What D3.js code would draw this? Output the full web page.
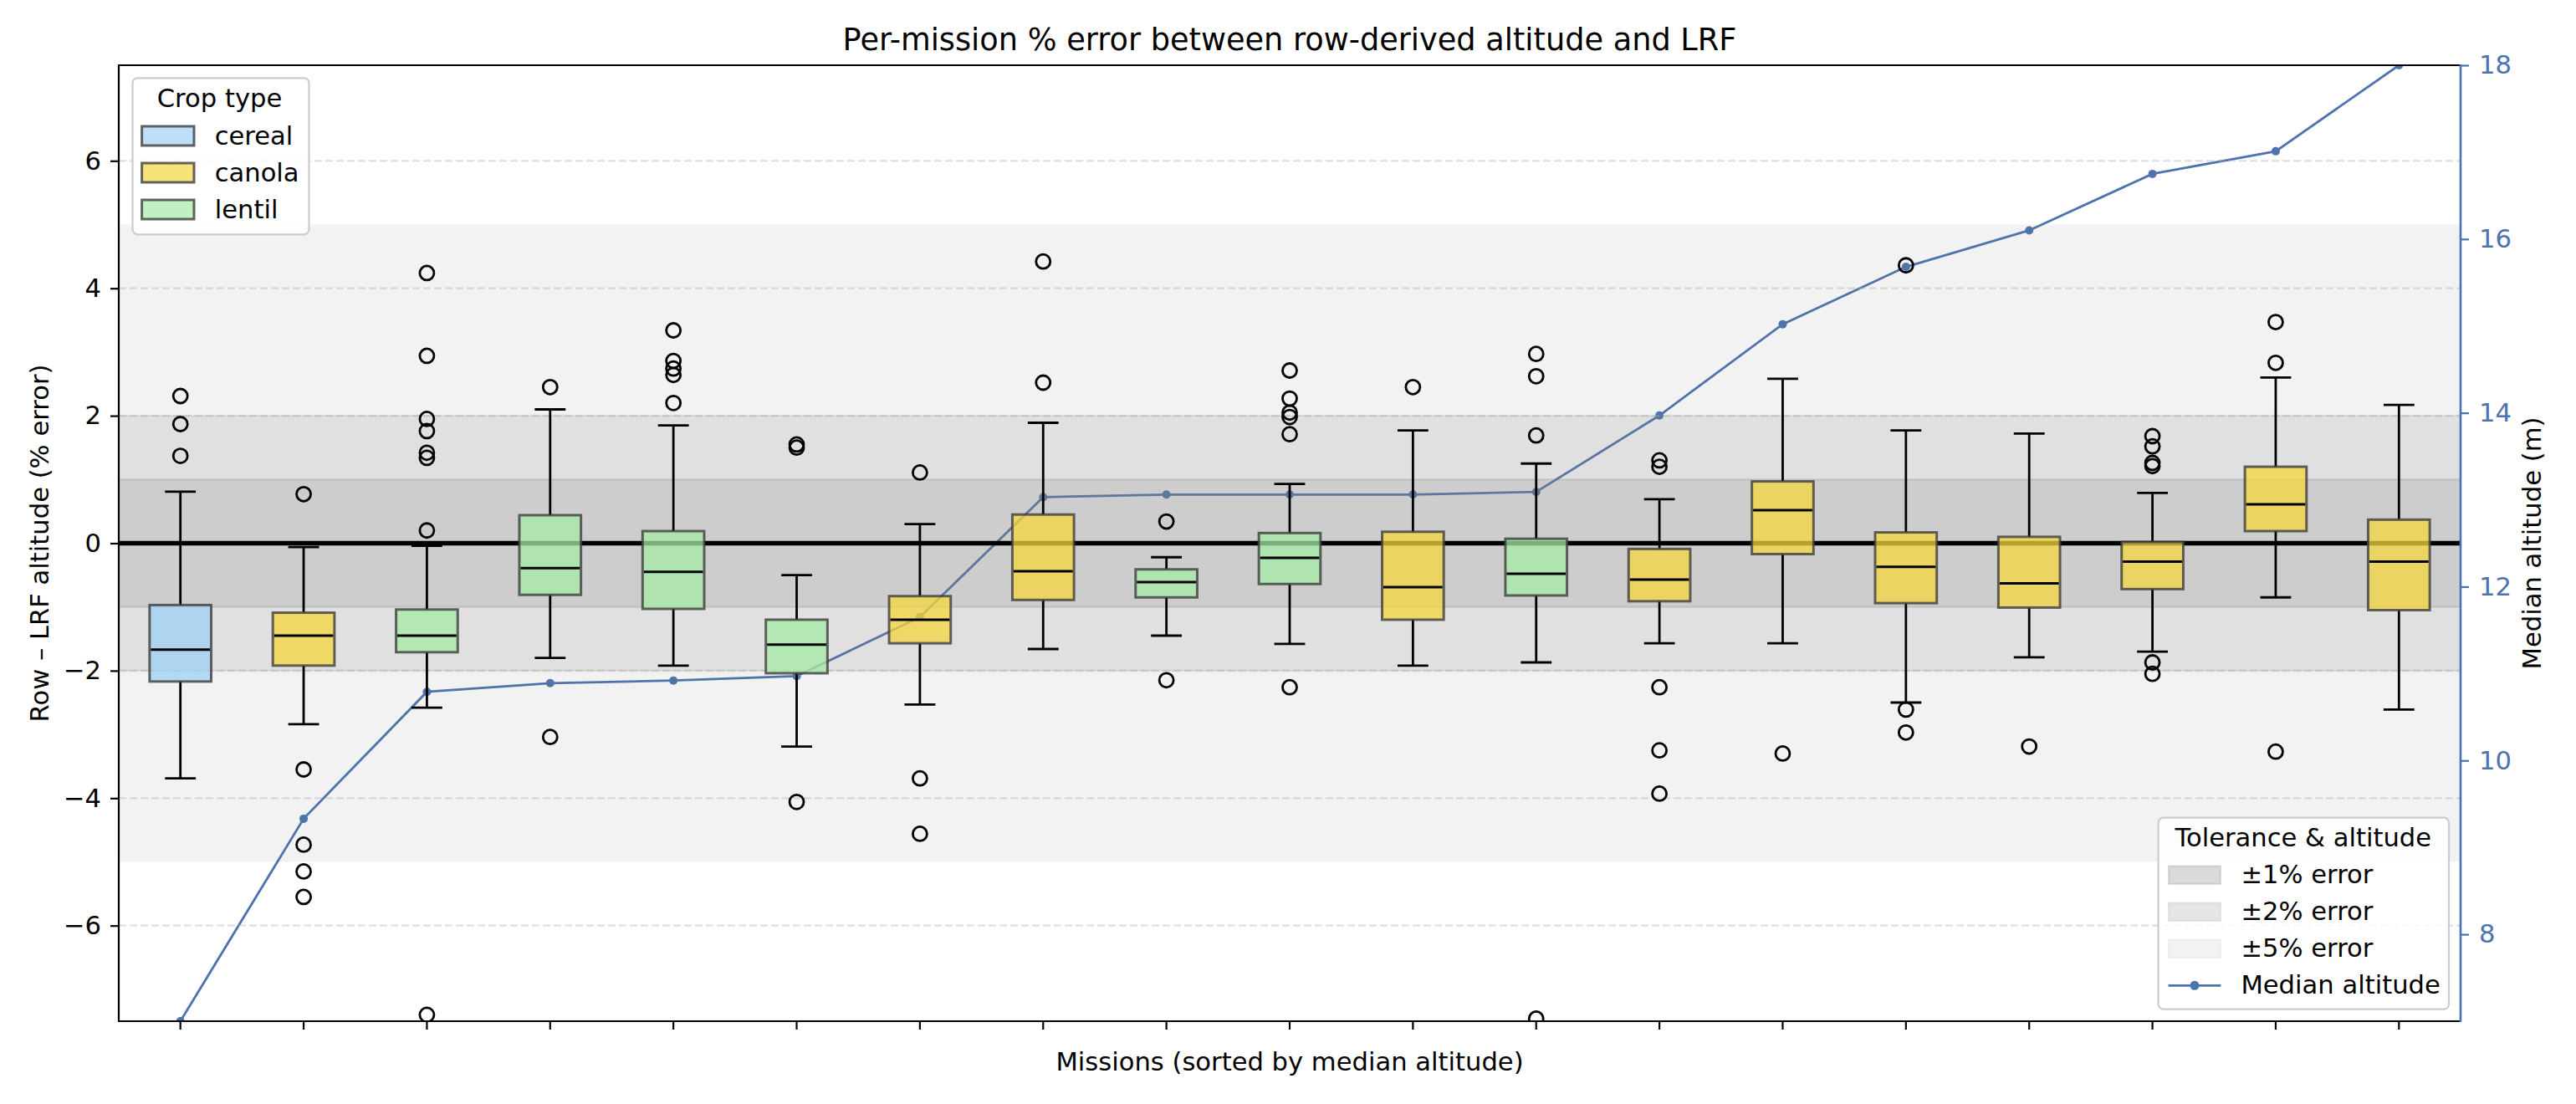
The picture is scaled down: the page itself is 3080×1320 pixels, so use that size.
<!DOCTYPE html>
<html>
<head>
<meta charset="utf-8">
<script src="https://cdn.jsdelivr.net/npm/d3@7"></script>
<style>
  html, body { margin: 0; padding: 0; background: #ffffff; }
  svg { display: block; font-family: "DejaVu Sans", sans-serif; }
</style>
</head>
<body>
<svg id="chart" width="3080" height="1320"></svg>
<script>
// ---------------- DATA ----------------
const cropTypes = ["cereal","canola","lentil","lentil","lentil","lentil","canola","canola","lentil","lentil",
                   "canola","lentil","canola","canola","canola","canola","canola","canola","canola"];
const whiskerLow  = [-3.69,-2.84,-2.58,-1.80,-1.92,-3.19,-2.53,-1.66,-1.45,-1.58,-1.92,-1.87,-1.57,-1.57,-2.50,-1.79,-1.70,-0.85,-2.61];
const q1          = [-2.17,-1.92,-1.71,-0.81,-1.03,-2.04,-1.57,-0.89,-0.85,-0.64,-1.20,-0.82,-0.91,-0.17,-0.94,-1.01,-0.72, 0.19,-1.05];
const medians     = [-1.67,-1.45,-1.45,-0.39,-0.45,-1.59,-1.20,-0.44,-0.61,-0.23,-0.69,-0.48,-0.57, 0.52,-0.37,-0.63,-0.29, 0.61,-0.29];
const q3          = [-0.97,-1.09,-1.04, 0.44, 0.19,-1.20,-0.83, 0.45,-0.41, 0.16, 0.18, 0.07,-0.09, 0.97, 0.17, 0.10, 0.02, 1.20, 0.37];
const whiskerHigh = [ 0.81,-0.06,-0.04, 2.10, 1.85,-0.50, 0.30, 1.89,-0.22, 0.93, 1.77, 1.25, 0.69, 2.58, 1.77, 1.72, 0.79, 2.60, 2.17];
const outliers = [
  [2.31,1.87,1.37],
  [0.77,-3.55,-4.73,-5.15,-5.55],
  [4.24,2.94,1.95,1.76,1.42,1.34,0.20,-7.40],
  [2.45,-3.04],
  [3.34,2.86,2.74,2.64,2.20],
  [1.55,1.50,-4.06],
  [1.11,-3.69,-4.56],
  [4.42,2.52],
  [0.34,-2.15],
  [2.71,2.27,2.05,1.98,1.71,-2.26],
  [2.45],
  [2.97,2.62,1.69,-7.46],
  [1.30,1.20,-2.26,-3.25,-3.93],
  [-3.30],
  [4.36,-2.61,-2.97],
  [-3.19],
  [1.68,1.52,1.26,1.21,-1.87,-2.05],
  [3.47,2.83,-3.27],
  []
];
const medianAltitude = [7.0,9.33,10.79,10.89,10.92,10.97,11.65,13.03,13.06,13.06,13.06,13.09,13.97,15.02,15.68,16.10,16.75,17.01,18.0];

const leftTicks  = [-6,-4,-2,0,2,4,6];
const rightTicks = [8,10,12,14,16,18];
const cropNames  = ["cereal","canola","lentil"];
const toleranceLevels = [1,2,5];
const toleranceLabels = ["±1% error","±2% error","±5% error"];

// ---------------- STYLE ----------------
const cropColor = { cereal: "#9dd0f4", canola: "#f5d63d", lentil: "#a4eba7" };
const altColor = "#4c72b0";
const bandOpacity = { 1: 0.2, 2: 0.155, 5: 0.1 };
const legendBandFill = { 1: "#dadada", 2: "#e6e6e6", 5: "#f2f2f2" };
const legendBandStroke = { 1: "#cfcfcf", 2: "#dedede", 5: "#ececec" };
const fontSize = 30.6;
const titleSize = 36.7;

const W = 3080, H = 1320;
const plot = { left: 142, right: 2942, top: 78, bottom: 1221 };

const svg = d3.select("#chart");
svg.append("rect").attr("width", W).attr("height", H).attr("fill", "#ffffff");

const idx = d3.range(cropTypes.length);
const x = d3.scaleBand().domain(idx).range([plot.left, plot.right]).padding(0);
const cx = i => x(i) + x.bandwidth() / 2;
const y = d3.scaleLinear().domain([-7.5, 7.5]).range([plot.bottom, plot.top]);
const yAlt = d3.scaleLinear().domain([7, 18]).range([plot.bottom, plot.top]);

svg.append("defs").append("clipPath").attr("id", "plotclip")
  .append("rect").attr("x", plot.left).attr("y", plot.top)
  .attr("width", plot.right - plot.left).attr("height", plot.bottom - plot.top);

const g = svg.append("g").attr("clip-path", "url(#plotclip)");

// altitude line (drawn below the main axes content)
g.append("path")
  .datum(medianAltitude)
  .attr("d", d3.line().x((d, i) => cx(i)).y(d => yAlt(d)))
  .attr("fill", "none").attr("stroke", altColor).attr("stroke-width", 2.8);
g.selectAll("circle.alt").data(medianAltitude).join("circle")
  .attr("class", "alt").attr("cx", (d, i) => cx(i)).attr("cy", d => yAlt(d))
  .attr("r", 5).attr("fill", altColor);

// tolerance bands
[5, 2, 1].forEach(t => {
  g.append("rect")
    .attr("x", plot.left - 10).attr("width", plot.right - plot.left + 20)
    .attr("y", y(t)).attr("height", y(-t) - y(t))
    .attr("fill", "#808080").attr("fill-opacity", bandOpacity[t]);
  if (t !== 5) {
    [t, -t].forEach(v => {
      g.append("line").attr("x1", plot.left).attr("x2", plot.right)
        .attr("y1", y(v)).attr("y2", y(v))
        .attr("stroke", "#808080").attr("stroke-opacity", bandOpacity[t]).attr("stroke-width", 2.5);
    });
  }
});

// grid
g.selectAll("line.grid").data(leftTicks).join("line")
  .attr("class", "grid")
  .attr("x1", plot.left).attr("x2", plot.right)
  .attr("y1", d => y(d)).attr("y2", d => y(d))
  .attr("stroke", "#b0b0b0").attr("stroke-opacity", 0.4)
  .attr("stroke-width", 2.2).attr("stroke-dasharray", "9,4");

// zero line
g.append("line").attr("x1", plot.left).attr("x2", plot.right)
  .attr("y1", y(0)).attr("y2", y(0))
  .attr("stroke", "#000").attr("stroke-width", 5.5);

// boxes
const bw = x.bandwidth() * 0.5;
const capW = bw * 0.5;
const boxes = g.selectAll("g.box").data(idx).join("g").attr("class", "box");
boxes.append("line")
  .attr("x1", cx).attr("x2", cx)
  .attr("y1", i => y(q3[i])).attr("y2", i => y(whiskerHigh[i]))
  .attr("stroke", "#000").attr("stroke-width", 2.8);
boxes.append("line")
  .attr("x1", cx).attr("x2", cx)
  .attr("y1", i => y(q1[i])).attr("y2", i => y(whiskerLow[i]))
  .attr("stroke", "#000").attr("stroke-width", 2.8);
boxes.append("line")
  .attr("x1", i => cx(i) - capW / 2).attr("x2", i => cx(i) + capW / 2)
  .attr("y1", i => y(whiskerHigh[i])).attr("y2", i => y(whiskerHigh[i]))
  .attr("stroke", "#000").attr("stroke-width", 2.8);
boxes.append("line")
  .attr("x1", i => cx(i) - capW / 2).attr("x2", i => cx(i) + capW / 2)
  .attr("y1", i => y(whiskerLow[i])).attr("y2", i => y(whiskerLow[i]))
  .attr("stroke", "#000").attr("stroke-width", 2.8);
boxes.append("rect")
  .attr("x", i => cx(i) - bw / 2).attr("width", bw)
  .attr("y", i => y(q3[i])).attr("height", i => y(q1[i]) - y(q3[i]))
  .attr("fill", i => cropColor[cropTypes[i]]).attr("fill-opacity", 0.75)
  .attr("stroke", "#3d3d3d").attr("stroke-opacity", 0.8).attr("stroke-width", 3);
boxes.append("line")
  .attr("x1", i => cx(i) - bw / 2 + 1.5).attr("x2", i => cx(i) + bw / 2 - 1.5)
  .attr("y1", i => y(medians[i])).attr("y2", i => y(medians[i]))
  .attr("stroke", "#000").attr("stroke-width", 3);
boxes.each(function(i) {
  d3.select(this).selectAll("circle.flier").data(outliers[i]).join("circle")
    .attr("class", "flier").attr("cx", cx(i)).attr("cy", d => y(d))
    .attr("r", 8.5).attr("fill", "none").attr("stroke", "#000").attr("stroke-width", 2.8);
});

// ---------------- AXES ----------------
const leftAxis = svg.append("g").attr("transform", `translate(${plot.left},0)`)
  .call(d3.axisLeft(y).tickValues(leftTicks).tickSize(10).tickPadding(11).tickFormat(d3.format("d")));
leftAxis.select(".domain").remove();
leftAxis.selectAll("line").attr("stroke", "#000").attr("stroke-width", 2.2);
leftAxis.selectAll("text").attr("font-size", fontSize).attr("fill", "#000")
  .attr("font-family", "DejaVu Sans");

const rightAxis = svg.append("g").attr("transform", `translate(${plot.right},0)`)
  .call(d3.axisRight(yAlt).tickValues(rightTicks).tickSize(10).tickPadding(12).tickFormat(d3.format("d")));
rightAxis.select(".domain").remove();
rightAxis.selectAll("line").attr("stroke", altColor).attr("stroke-width", 2.2);
rightAxis.selectAll("text").attr("font-size", fontSize).attr("fill", altColor)
  .attr("font-family", "DejaVu Sans");

const bottomAxis = svg.append("g").attr("transform", `translate(0,${plot.bottom})`)
  .call(d3.axisBottom(x).tickSize(10).tickFormat(""));
bottomAxis.select(".domain").remove();
bottomAxis.selectAll("line").attr("stroke", "#000").attr("stroke-width", 2.2);

// spines
const spines = svg.append("g").attr("fill", "none");
spines.append("line").attr("x1", plot.left).attr("x2", plot.left).attr("y1", plot.top - 1.1).attr("y2", plot.bottom + 1.1)
  .attr("stroke", "#000").attr("stroke-width", 2.2);
spines.append("line").attr("x1", plot.left).attr("x2", plot.right).attr("y1", plot.top).attr("y2", plot.top)
  .attr("stroke", "#000").attr("stroke-width", 2.2);
spines.append("line").attr("x1", plot.left).attr("x2", plot.right).attr("y1", plot.bottom).attr("y2", plot.bottom)
  .attr("stroke", "#000").attr("stroke-width", 2.2);
spines.append("line").attr("x1", plot.right).attr("x2", plot.right).attr("y1", plot.top - 1.1).attr("y2", plot.bottom + 1.1)
  .attr("stroke", altColor).attr("stroke-width", 2.6);

// titles & labels
svg.append("text").attr("x", (plot.left + plot.right) / 2).attr("y", 60)
  .attr("text-anchor", "middle").attr("font-size", titleSize).attr("fill", "#000")
  .text("Per-mission % error between row-derived altitude and LRF");
svg.append("text").attr("x", (plot.left + plot.right) / 2).attr("y", 1280)
  .attr("text-anchor", "middle").attr("font-size", fontSize).attr("fill", "#000")
  .text("Missions (sorted by median altitude)");
svg.append("text").attr("transform", `translate(58,${(plot.top + plot.bottom) / 2}) rotate(-90)`)
  .attr("text-anchor", "middle").attr("font-size", fontSize).attr("fill", "#000")
  .text("Row – LRF altitude (% error)");
svg.append("text").attr("transform", `translate(3038,${(plot.top + plot.bottom) / 2}) rotate(-90)`)
  .attr("text-anchor", "middle").attr("font-size", fontSize).attr("fill", "#000")
  .text("Median altitude (m)");

// ---------------- LEGENDS ----------------
// Crop type legend
const lg1 = svg.append("g");
lg1.append("rect").attr("x", 158.5).attr("y", 93.3).attr("width", 211).attr("height", 187)
  .attr("rx", 6).attr("fill", "#ffffff").attr("fill-opacity", 0.8)
  .attr("stroke", "#cccccc").attr("stroke-width", 2.2);
lg1.append("text").attr("x", 262.5).attr("y", 127.5).attr("text-anchor", "middle")
  .attr("font-size", fontSize).attr("fill", "#000").text("Crop type");
cropNames.forEach((c, k) => {
  lg1.append("rect").attr("x", 169.6).attr("y", 151 + 44 * k).attr("width", 62.4).attr("height", 23)
    .attr("fill", cropColor[c]).attr("fill-opacity", 0.68)
    .attr("stroke", "#3d3d3d").attr("stroke-opacity", 0.8).attr("stroke-width", 3);
  lg1.append("text").attr("x", 256.7).attr("y", 172.7 + 44 * k)
    .attr("font-size", fontSize).attr("fill", "#000").text(c);
});

// Tolerance & altitude legend
const lg2 = svg.append("g");
lg2.append("rect").attr("x", 2580.6).attr("y", 977.7).attr("width", 347.4).attr("height", 229)
  .attr("rx", 6).attr("fill", "#ffffff").attr("fill-opacity", 0.8)
  .attr("stroke", "#cccccc").attr("stroke-width", 2.2);
lg2.append("text").attr("x", 2753.8).attr("y", 1011.7).attr("text-anchor", "middle")
  .attr("font-size", fontSize).attr("fill", "#000").text("Tolerance & altitude");
toleranceLevels.forEach((t, k) => {
  lg2.append("rect").attr("x", 2593.5).attr("y", 1036 + 44 * k).attr("width", 61).attr("height", 20.5)
    .attr("fill", legendBandFill[t]).attr("stroke", legendBandStroke[t]).attr("stroke-width", 2.5);
  lg2.append("text").attr("x", 2679.4).attr("y", 1056 + 44 * k)
    .attr("font-size", fontSize).attr("fill", "#000").text(toleranceLabels[k]);
});
lg2.append("line").attr("x1", 2592.5).attr("x2", 2655.4).attr("y1", 1178.3).attr("y2", 1178.3)
  .attr("stroke", altColor).attr("stroke-width", 2.8);
lg2.append("circle").attr("cx", 2624).attr("cy", 1178.3).attr("r", 5.5).attr("fill", altColor);
lg2.append("text").attr("x", 2679.4).attr("y", 1188)
  .attr("font-size", fontSize).attr("fill", "#000").text("Median altitude");
</script>
</body>
</html>
